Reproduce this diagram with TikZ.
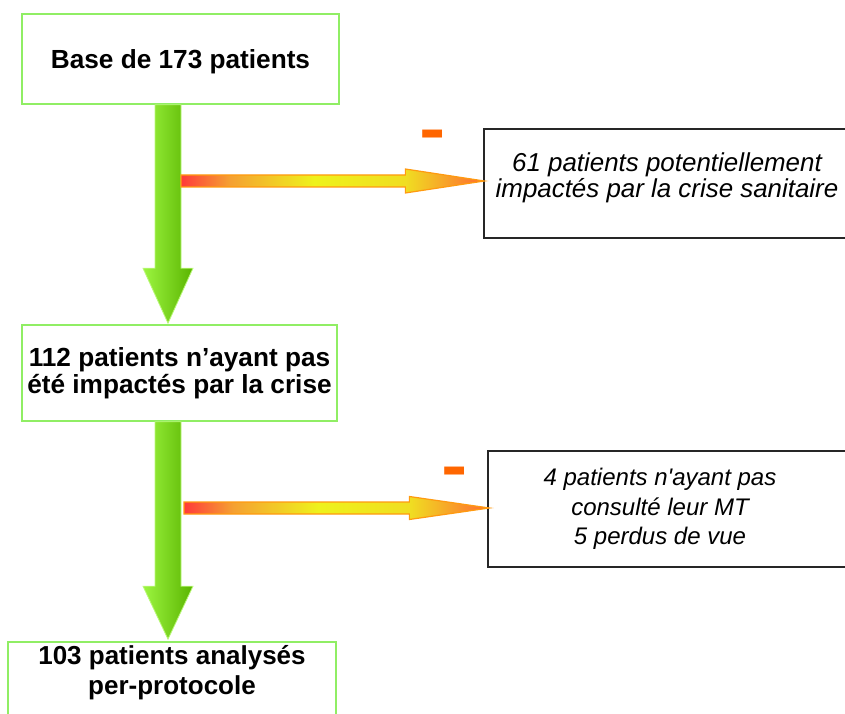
\documentclass[tikz,border=0pt]{standalone}
\usepackage{fontspec}
\setmainfont{Liberation Sans}
\newfontfamily\rawsans{Liberation Sans}
\usetikzlibrary{positioning,calc}

\definecolor{boxgreen}{HTML}{90EE64}
\definecolor{greenlight}{HTML}{9CF540}
\definecolor{greendark}{HTML}{5AB400}
\definecolor{arrred}{HTML}{FF3A3A}
\definecolor{arrorange}{HTML}{F5A032}
\definecolor{arryellow}{HTML}{EEF21C}
\definecolor{arrtip}{HTML}{FF6A30}
\definecolor{arrline}{HTML}{FF9A10}
\definecolor{minusorange}{HTML}{FF6600}

\pgfdeclarehorizontalshading{redyellow}{100bp}{color(0bp)=(arrred); color(25bp)=(arrred);
  color(33bp)=(arrorange); color(47bp)=(arryellow); color(62bp)=(arryellow!75!arrorange);
  color(75bp)=(arrtip); color(100bp)=(arrtip)}

\tikzset{
  greenbox/.style={draw=boxgreen, line width=1.6pt, fill=white, inner sep=0pt},
  blackbox/.style={draw=black!85, line width=1.3pt, fill=white, inner sep=0pt},
  boldtxt/.style={font=\bfseries\fontsize{26.2}{27}\selectfont, align=center, inner sep=0pt},
  itxt/.style={font=\itshape\fontsize{25.9}{25.8}\selectfont, align=center, inner sep=0pt},
  downarrow/.style={draw=greenlight!70!white, line width=0.8pt, left color=greenlight, right color=greendark},
  sidearrow/.style={draw=arrline, line width=1.2pt, shade, shading=redyellow},
  minustxt/.style={font=\bfseries\fontsize{40}{40}\selectfont, text=minusorange, inner sep=0pt}
}

\begin{document}
\begin{tikzpicture}[x=1pt, y=1pt]
  \clip (0,0) rectangle (845,713);

  % left column boxes
  \node[greenbox, minimum width=317, minimum height=90] (b1) at (180.5,654) {};
  \node[boldtxt] (t1) at ([yshift=-3]b1.center) {Base de 173 patients};

  \node[greenbox, minimum width=315, minimum height=96] (b2) at (179.5,340) {};
  \node[boldtxt] (t2) at (b2.center) {112 patients n’ayant pas\\été impactés par la crise};

  \node[greenbox, minimum width=328, minimum height=100] (b5) at (172,21) {};
  \node[boldtxt, font=\bfseries\fontsize{26}{30}\selectfont] (t5) at (172,40) {103 patients analysés\\per-protocole};

  % right column boxes
  \node[blackbox, minimum width=366, minimum height=109] (b3) at (667,529.5) {};
  \node[itxt] (t3) at ([yshift=6]b3.center) {61 patients potentiellement\\impactés par la crise sanitaire};

  \node[blackbox, minimum width=362, minimum height=116] (b4) at (669,204) {};
  \node[itxt, font=\rawsans\itshape\fontsize{24}{29.5}\selectfont] (t4) at (660,204) {4 patients n'ayant pas\\consulté leur MT\\5 perdus de vue};

  \coordinate (spine) at (168,0);

  % green arrows down
  \path[downarrow] let \p1=(b1.south -| spine), \p2=(b2.north -| spine) in
    (\x1-13pt,\y1) -- (\x1+13pt,\y1) -- (\x1+13pt,\y2+56pt) -- (\x1+25pt,\y2+56pt)
    -- (\x1,\y2+1pt) -- (\x1-25pt,\y2+56pt) -- (\x1-13pt,\y2+56pt) -- cycle;
  \path[downarrow] let \p1=(b2.south -| spine), \p2=(b5.north -| spine) in
    (\x1-13pt,\y1) -- (\x1+13pt,\y1) -- (\x1+13pt,\y2+55pt) -- (\x1+25pt,\y2+55pt)
    -- (\x1,\y2+2pt) -- (\x1-25pt,\y2+55pt) -- (\x1-13pt,\y2+55pt) -- cycle;

  % orange arrows to the right
  \path[sidearrow] let \p1=($(b3.west -| spine)+(13,2.5)$), \p2=($(b3.west)+(1,2.5)$) in
    (\x1,\y1+6pt) -- (\x2-79pt,\y1+6pt) -- (\x2-79pt,\y1+12pt) -- (\x2,\y1)
    -- (\x2-79pt,\y1-12pt) -- (\x2-79pt,\y1-6pt) -- (\x1,\y1-6pt) -- cycle;
  \path[sidearrow] let \p1=($(b4.west -| spine)+(16,1)$), \p2=($(b4.west)+(2,1)$) in
    (\x1,\y1+6pt) -- (\x2-80pt,\y1+6pt) -- (\x2-80pt,\y1+11.5pt) -- (\x2,\y1)
    -- (\x2-80pt,\y1-11.5pt) -- (\x2-80pt,\y1-6pt) -- (\x1,\y1-6pt) -- cycle;

  % minus signs
  \node[minustxt] (m1) at (433,570.5) {\scalebox{1}[2]{–}};
  \node[minustxt] (m2) at (455,233.5) {\scalebox{1}[2]{–}};
\end{tikzpicture}
\end{document}
